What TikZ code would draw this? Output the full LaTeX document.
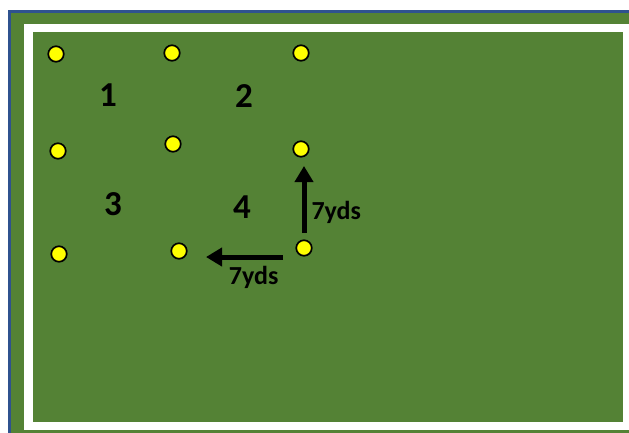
\documentclass[tikz,border=0pt]{standalone}
\usepackage{fontspec}
\setmainfont{Carlito}
\usepackage{tikz}
\usetikzlibrary{arrows.meta,positioning}
\usepackage{xcolor}
\definecolor{pitch}{HTML}{548235}
\definecolor{edge}{HTML}{2F528F}
\definecolor{cone}{HTML}{FFFF00}

\begin{document}
\begin{tikzpicture}[
    x=1pt,y=-1pt,
    cone/.style={circle,draw=black,line width=1.7pt,fill=cone,minimum size=15.5pt,inner sep=0pt},
    zone/.style={font=\fontsize{35}{40}\selectfont\bfseries},
    run/.style={-{Triangle[length=16pt,width=18pt]},line width=5pt,black},
    dist/.style={font=\fontsize{26}{30}\selectfont\bfseries,inner sep=2pt}
]
\useasboundingbox (0,0) rectangle (629,432);
\clip (0,0) rectangle (629,432);
% field
\fill[white] (0,0) rectangle (629,432);
\fill[pitch] (9.5,11) rectangle (640,440);
\draw[edge,line width=3pt] (9.5,450) -- (9.5,11) -- (640,11);
\draw[white,line width=8.5pt] (28.5,28) rectangle (627,426);

% cones
\node[cone] (c11) at (56,54) {};
\node[cone] (c12) at (172,53) {};
\node[cone] (c13) at (301,53) {};
\node[cone] (c21) at (58,151) {};
\node[cone] (c22) at (173,144) {};
\node[cone] (c23) at (301,149) {};
\node[cone] (c31) at (59,254) {};
\node[cone] (c32) at (179,251) {};
\node[cone] (c33) at (304,248) {};

% grid numbers
\node[zone] (z1) at (108,95) {1};
\node[zone] (z2) at (244,96) {2};
\node[zone] (z3) at (113,204) {3};
\node[zone] (z4) at (242,207) {4};

% runs
\draw[run] ([shift={(0,-15)}]c33.center) -- node[dist,right,pos=0.3,xshift=3pt] {7yds} ([shift={(3,17)}]c23.center);
\draw[run] ([shift={(-21,9)}]c33.center) -- node[dist,below,pos=0.38,yshift=-5pt] {7yds} ([shift={(27,6)}]c32.center);

\end{tikzpicture}
\end{document}
